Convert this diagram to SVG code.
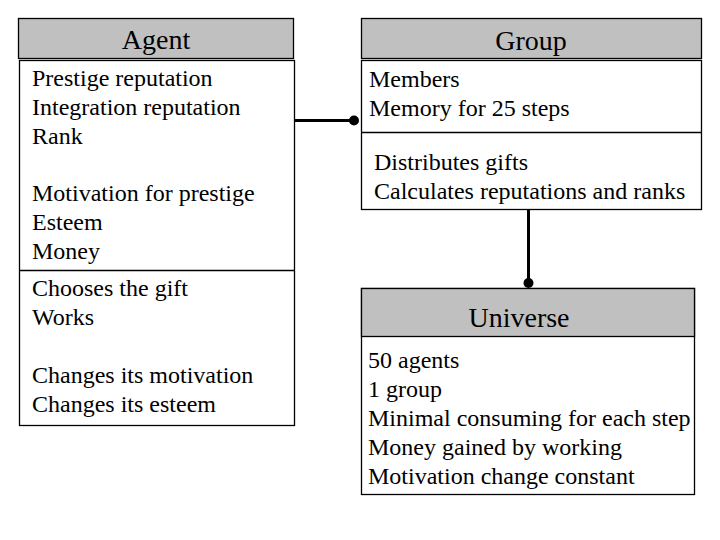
<svg xmlns="http://www.w3.org/2000/svg" width="720" height="540" viewBox="0 0 720 540">
<style>
.hdr{fill:#c0c0c0;stroke:#000;stroke-width:1.3}
.box{fill:#fff;stroke:#000;stroke-width:1.3}
.ln{stroke:#000;stroke-width:1.3}
text{font-family:"Liberation Serif","Times New Roman",serif;fill:#000}
.t{font-size:28px;text-anchor:middle}
.b{font-size:24px}
.conn{stroke:#000;stroke-width:3;fill:none}
</style>
<rect width="720" height="540" fill="#fff"/>
<g id="agent">
<rect class="hdr" x="18.5" y="18.5" width="275" height="40"/>
<text class="t" x="156" y="49">Agent</text>
<rect class="box" x="19.5" y="60.5" width="275" height="365"/>
<line class="ln" x1="19.5" y1="270.5" x2="294.5" y2="270.5"/>
<text class="b" x="32" y="86">Prestige reputation</text>
<text class="b" x="32" y="115">Integration reputation</text>
<text class="b" x="32" y="144">Rank</text>
<text class="b" x="32" y="201">Motivation for prestige</text>
<text class="b" x="32" y="230">Esteem</text>
<text class="b" x="32" y="259">Money</text>
<text class="b" x="32" y="296">Chooses the gift</text>
<text class="b" x="32" y="325">Works</text>
<text class="b" x="32" y="383">Changes its motivation</text>
<text class="b" x="32" y="412">Changes its esteem</text>
</g>
<g id="group">
<rect class="hdr" x="361.5" y="18.5" width="340" height="40"/>
<text class="t" x="531" y="50">Group</text>
<rect class="box" x="361.5" y="60.5" width="340" height="149"/>
<line class="ln" x1="361.5" y1="132.5" x2="701.5" y2="132.5"/>
<text class="b" x="369" y="87">Members</text>
<text class="b" x="369" y="116">Memory for 25 steps</text>
<text class="b" x="374" y="170">Distributes gifts</text>
<text class="b" x="374" y="199">Calculates reputations and ranks</text>
</g>
<g id="universe">
<rect class="box" x="361.5" y="288.5" width="333" height="206"/>
<rect class="hdr" x="361.5" y="288.5" width="333" height="48"/>
<text class="t" x="519" y="327">Universe</text>
<text class="b" x="368" y="368">50 agents</text>
<text class="b" x="368" y="397">1 group</text>
<text class="b" x="368" y="426">Minimal consuming for each step</text>
<text class="b" x="368" y="455">Money gained by working</text>
<text class="b" x="368" y="484">Motivation change constant</text>
</g>
<g id="connectors">
<line class="conn" x1="295" y1="120.5" x2="354" y2="120.5"/>
<circle cx="354" cy="120.5" r="5"/>
<line class="conn" x1="528.5" y1="210" x2="528.5" y2="283"/>
<circle cx="528.5" cy="283" r="5"/>
</g>
</svg>
